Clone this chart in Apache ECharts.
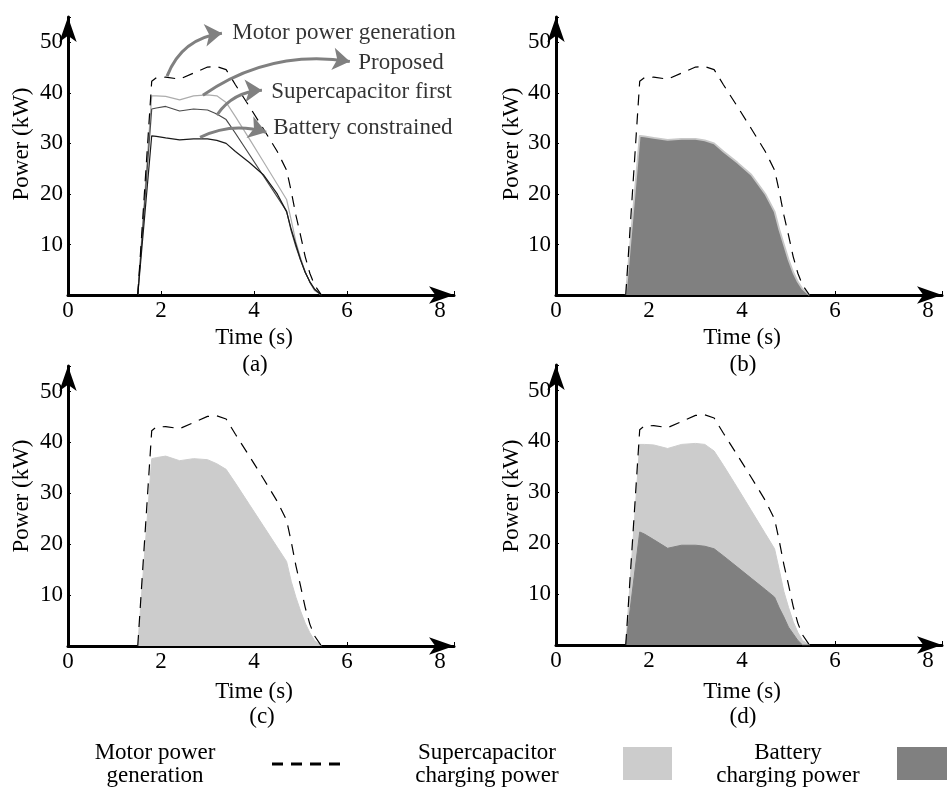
<!DOCTYPE html>
<html><head><meta charset="utf-8">
<script src="https://cdn.jsdelivr.net/npm/echarts@6/dist/echarts.min.js"></script>
<style>html,body{margin:0;padding:0;background:#fff}#c{width:949px;height:793px}</style>
</head><body><div id="c"></div>
<script>
// ---- data (time in s, power in kW) ----
const time = [1.5, 1.8, 1.9, 2.1, 2.4, 2.7, 3.0, 3.2, 3.4, 3.6, 3.9, 4.2, 4.5, 4.7, 4.8, 4.9, 5.0, 5.1, 5.2, 5.3, 5.45];
const motorPower        = [0, 42.3, 43.0, 43.1, 42.7, 43.9, 45.1, 45.2, 44.6, 41.6, 37.3, 32.9, 28.4, 24.7, 20.5, 15.8, 11.8, 7.6, 4.3, 2.0, 0];
const batteryConstrained= [0, 31.5, 31.4, 31.1, 30.7, 30.9, 30.9, 30.6, 30.0, 28.4, 26.2, 23.8, 20.0, 16.5, 13.0, 10.0, 7.0, 4.5, 2.6, 1.2, 0];
const supercapFirst     = [0, 36.8, 37.0, 37.3, 36.4, 36.8, 36.6, 35.8, 34.7, 32.0, 27.8, 23.6, 19.4, 16.6, 12.7, 9.6, 6.9, 4.5, 2.6, 1.1, 0];
const proposedTotal     = [0, 39.4, 39.4, 39.3, 38.6, 39.4, 39.6, 39.4, 38.1, 35.3, 30.9, 26.4, 21.9, 18.9, 14.8, 10.5, 7.4, 4.6, 2.5, 0.9, 0];
const proposedBattery   = [0, 22.2, 21.8, 20.7, 19.0, 19.6, 19.6, 19.4, 18.9, 17.5, 15.3, 13.1, 10.9, 9.4, 7.3, 5.5, 3.5, 2.2, 0.9, 0, 0];

const xTicks = [0, 2, 4, 6, 8];
const yTicks = [10, 20, 30, 40, 50];

// annotation arrows (panel a), data coordinates
const annotLabels = ['Motor power generation', 'Proposed', 'Supercapacitor first', 'Battery constrained'];
const arrowFrom   = [[2.13, 43.3], [2.90, 39.5], [3.20, 35.6], [2.84, 31.2]];
const arrowTo     = [[3.31, 51.8], [6.06, 46.2], [4.17, 40.5], [4.26, 32.2]];
const arrowBend   = [0.3, 0.2, 0.25, 0.2];
const annotTextAt = [[3.53, 51.8], [6.24, 46.0], [4.37, 40.1], [4.41, 33.0]];

const captions = ['(a)', '(b)', '(c)', '(d)'];
</script>
<script>
const FONT = '"Liberation Serif", "Times New Roman", serif';
const FS = 23;
const pair = arr => time.map((t, i) => [t, arr[i]]);

const grids = [
  {left: 68,  top: 17,  width: 386, height: 278},
  {left: 556, top: 17,  width: 386, height: 278},
  {left: 68,  top: 366, width: 386, height: 280},
  {left: 556, top: 365, width: 386, height: 280}
];

const xAxes = grids.map((g, i) => ({
  type: 'value', gridIndex: i, min: 0, max: 8.3, interval: 2,
  axisLine: {show: true, symbol: ['none', 'arrow'], symbolSize: [13, 25], lineStyle: {color: '#000', width: 3}},
  axisTick: {show: true, inside: true, length: 4, lineStyle: {color: '#000', width: 1}},
  axisLabel: {fontFamily: FONT, fontSize: FS, color: '#000', margin: 4,
    formatter: v => xTicks.includes(v) ? String(v) : ''},
  splitLine: {show: false}
}));
const yAxes = grids.map((g, i) => ({
  type: 'value', gridIndex: i, min: 0, max: 55, interval: 10,
  axisLine: {show: true, symbol: ['none', 'arrow'], symbolSize: [13, 25], lineStyle: {color: '#000', width: 3}},
  axisTick: {show: true, inside: true, length: 3, lineStyle: {color: '#000', width: 1}},
  axisLabel: {fontFamily: FONT, fontSize: FS, color: '#000', margin: 5,
    formatter: v => yTicks.includes(v) ? String(v) : ''},
  splitLine: {show: false}
}));

function lineS(idx, data, color, width, dashed) {
  return {type: 'line', xAxisIndex: idx, yAxisIndex: idx, data: pair(data), symbol: 'none',
    lineStyle: {color: color, width: width, type: dashed ? [11, 8] : 'solid'}, silent: true, z: 5};
}
function areaS(idx, data, fill, edge, edgeW) {
  return {type: 'line', xAxisIndex: idx, yAxisIndex: idx, data: pair(data), symbol: 'none',
    lineStyle: {color: edge, width: edgeW}, areaStyle: {color: fill, opacity: 1}, silent: true, z: 3};
}

const series = [
  // panel (a)
  lineS(0, proposedTotal, '#adadad', 1.2),
  lineS(0, supercapFirst, '#4a4a4a', 1.2),
  lineS(0, batteryConstrained, '#1a1a1a', 1.2),
  lineS(0, motorPower, '#000', 1.2, true),
  {type: 'lines', coordinateSystem: 'cartesian2d', xAxisIndex: 0, yAxisIndex: 0, silent: true, z: 6,
    symbol: ['none', 'arrow'], symbolSize: [10, 17],
    lineStyle: {color: '#808080', width: 3, opacity: 1},
    data: arrowFrom.map((f, i) => ({coords: [f, arrowTo[i]], lineStyle: {curveness: arrowBend[i]}}))},
  {type: 'scatter', xAxisIndex: 0, yAxisIndex: 0, silent: true, symbolSize: 0.1, itemStyle: {color: 'rgba(0,0,0,0)'},
    label: {show: true, position: 'right', distance: 0, formatter: '{b}', fontFamily: FONT, fontSize: FS, color: '#000'},
    data: annotLabels.map((n, i) => ({name: n, value: annotTextAt[i]}))},
  // panel (b)
  areaS(1, batteryConstrained, '#808080', '#c8c8c8', 1.8),
  lineS(1, motorPower, '#000', 1.2, true),
  // panel (c)
  areaS(2, supercapFirst, '#cccccc', '#cccccc', 1),
  lineS(2, motorPower, '#000', 1.2, true),
  // panel (d)
  areaS(3, proposedTotal, '#cccccc', '#cccccc', 1),
  areaS(3, proposedBattery, '#808080', '#808080', 1),
  lineS(3, motorPower, '#000', 1.2, true)
];

const txt = (x, y, text, rot) => ({type: 'text', x: x, y: y, rotation: rot || 0, silent: true,
  style: {text: text, font: FS + 'px ' + FONT, fill: '#000', align: 'center', verticalAlign: 'middle', lineHeight: 23}});

const graphics = [
  txt(22, 144, 'Power (kW)', Math.PI / 2), txt(512, 144, 'Power (kW)', Math.PI / 2),
  txt(22, 496, 'Power (kW)', Math.PI / 2), txt(512, 496, 'Power (kW)', Math.PI / 2),
  txt(254, 338, 'Time (s)'), txt(742, 338, 'Time (s)'),
  txt(254, 692, 'Time (s)'), txt(742, 692, 'Time (s)'),
  txt(255, 365, captions[0]), txt(743, 365, captions[1]),
  txt(262, 717, captions[2]), txt(743, 717, captions[3]),
  // legend
  txt(155, 764, 'Motor power\ngeneration'),
  {type: 'line', silent: true, shape: {x1: 272, y1: 764, x2: 340, y2: 764},
    style: {stroke: '#000', lineWidth: 3, lineDash: [11, 8]}},
  txt(487, 764, 'Supercapacitor\ncharging power'),
  {type: 'rect', silent: true, shape: {x: 623, y: 747, width: 49, height: 33}, style: {fill: '#cccccc'}},
  txt(788, 764, 'Battery\ncharging power'),
  {type: 'rect', silent: true, shape: {x: 897, y: 747, width: 50, height: 33}, style: {fill: '#808080'}}
];

const chart = echarts.init(document.getElementById('c'), null, {renderer: 'canvas'});
chart.setOption({
  animation: false,
  backgroundColor: '#fff',
  grid: grids,
  xAxis: xAxes,
  yAxis: yAxes,
  series: series,
  graphic: graphics
});
</script>
</body></html>
